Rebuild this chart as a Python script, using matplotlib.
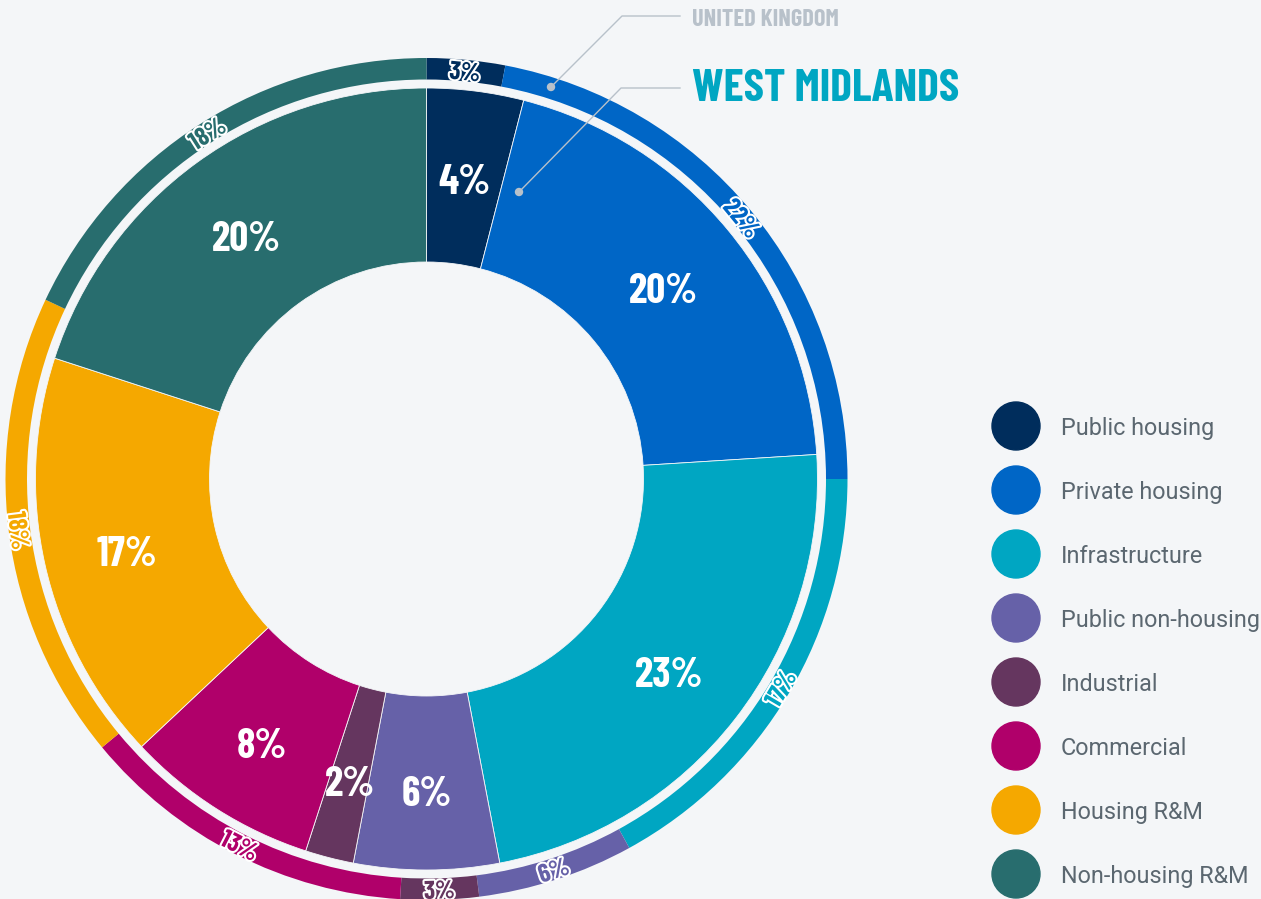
#Donut chart: construction output share, West Midlands (inner) vs United Kingdom (outer)
import numpy as np
import matplotlib.pyplot as plt
import matplotlib.patheffects as pe
from matplotlib.patches import Circle

#Data
categories = ['Public housing', 'Private housing', 'Infrastructure', 'Public non-housing',
              'Industrial', 'Commercial', 'Housing R&M', 'Non-housing R&M']
colors = ['#002d5c', '#0066c6', '#00a6c2', '#6661a8', '#65365f', '#b0006a', '#f5a800', '#286d6e']
west_midlands = [4, 20, 23, 6, 2, 8, 17, 20]
united_kingdom = [3, 22, 17, 6, 3, 13, 18, 18]

bg = '#f4f6f8'
cond = ['Barlow Condensed', 'DejaVu Sans']
W, H = 1261, 899

fig = plt.figure(figsize=(W / 100, H / 100), dpi=100, facecolor=bg)
ax = fig.add_axes([0, 0, 1, 1])

#geometry in pixels (y up)
cx, cy = 426.5, H - 479
r_out, r_uk_in = 421, 399.5
r_wm, r_hole = 391, 217

ax.pie(united_kingdom, colors=colors, radius=r_out, center=(cx, cy), startangle=90,
       counterclock=False, wedgeprops=dict(width=r_out - r_uk_in, linewidth=0))
ax.pie(west_midlands, colors=colors, radius=r_wm, center=(cx, cy), startangle=90,
       counterclock=False, wedgeprops=dict(width=r_wm - r_hole, edgecolor=bg, linewidth=0.6))
ax.set_xlim(0, W)
ax.set_ylim(0, H)
ax.set_aspect('equal')
ax.axis('off')


def mid_angles(vals):
    vals = np.array(vals, dtype=float)
    cum = np.cumsum(vals)
    return (cum - vals / 2) / vals.sum() * 360  # clockwise from top


#Inner labels
r = (r_wm + r_hole) / 2 + 3
for v, th in zip(west_midlands, mid_angles(west_midlands)):
    t = np.radians(th)
    ax.text(cx + r * np.sin(t), cy + r * np.cos(t) - 5, f'{v}%', color='white', fontsize=30,
            fontweight='bold', family=cond, ha='center', va='center_baseline')

#Outer labels, rotated along the ring
r = (r_out + r_uk_in) / 2
for v, th, c in zip(united_kingdom, mid_angles(united_kingdom), colors):
    t = np.radians(th)
    rot = -th if (th <= 90 or th >= 270) else 180 - th
    ax.text(cx + r * np.sin(t), cy + r * np.cos(t), f'{v}%', color=c, fontsize=18.5,
            fontweight='bold', family=cond, ha='center', va='center_baseline', rotation=rot,
            rotation_mode='anchor',
            path_effects=[pe.withStroke(linewidth=3, foreground='white')])

#Series titles with leader lines
grey = '#b8c1ca'
ax.plot([551, 622, 680], [H - 87, H - 16, H - 16], color=grey, lw=1)
ax.plot([519, 621, 680], [H - 192, H - 88, H - 88], color=grey, lw=1)
ax.add_patch(Circle((551, H - 87), 3.5, color=grey, zorder=5))
ax.add_patch(Circle((519, H - 192), 3.5, color=grey, zorder=5))
ax.text(692, H - 17, 'UNITED KINGDOM', color=grey, fontsize=17.5, fontweight='bold',
        family=cond, ha='left', va='center_baseline')
ax.text(692, H - 85, 'WEST MIDLANDS', color='#00a6c2', fontsize=33, fontweight='bold',
        family=cond, ha='left', va='center_baseline')

#Legend
for i, (name, c) in enumerate(zip(categories, colors)):
    y = H - (426 + 64 * i)
    ax.add_patch(Circle((1016, y), 24, color=c))
    ax.text(1061, y, name, color='#5b6770', fontsize=16.8, family='Roboto',
            ha='left', va='center_baseline')

plt.savefig('out.png', dpi=100, facecolor=bg)
